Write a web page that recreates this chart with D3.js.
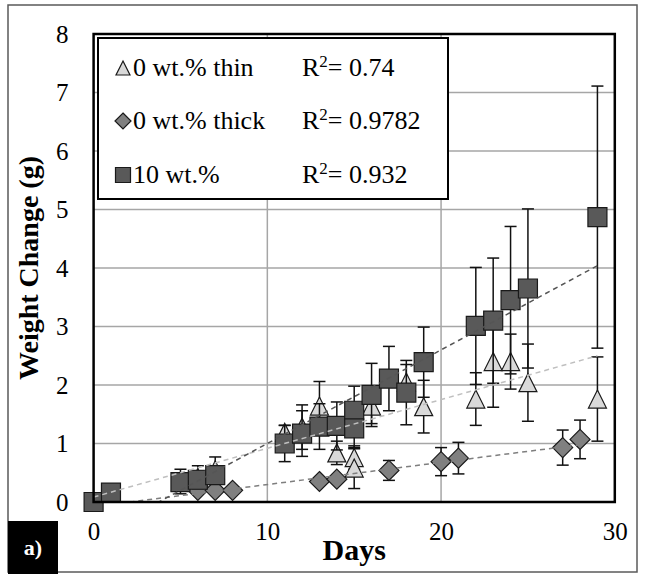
<!DOCTYPE html>
<html>
<head>
<meta charset="utf-8">
<script src="https://cdn.jsdelivr.net/npm/d3@7"></script>
<style>
  html, body { margin: 0; padding: 0; background: #fff; }
  svg { display: block; }
</style>
</head>
<body>
<svg id="chart" width="645" height="574"></svg>
<script>
// ---------------- data ----------------
const xTicks = [0, 10, 20, 30];
const yTicks = [0, 1, 2, 3, 4, 5, 6, 7, 8];

// 0 wt.% thin (triangles)
const thinDays   = [5, 6, 7, 11, 12, 13, 14, 15, 15, 16, 18, 19, 22, 23, 24, 25, 29];
const thinValues = [0.35, 0.42, 0.55, 1.19, 1.28, 1.64, 0.84, 0.76, 0.58, 1.64, 2.05, 1.63, 1.76, 2.40, 2.40, 2.04, 1.76];
const thinErrors = [0.21, 0.20, 0.22, 0.12, 0.38, 0.42, 0.20, 0.20, 0.35, 0.30, 0.30, 0.45, 0.45, 0.78, 0.47, 0.66, 0.72];

// 0 wt.% thick (diamonds)
const thickDays   = [6, 7, 8, 13, 14, 17, 20, 21, 27, 28];
const thickValues = [0.20, 0.20, 0.20, 0.35, 0.39, 0.54, 0.69, 0.75, 0.93, 1.07];
const thickErrors = [0.04, 0.04, 0.04, 0.04, 0.04, 0.17, 0.24, 0.27, 0.30, 0.33];

// 10 wt.% (squares)
const tenDays   = [0, 1, 5, 6, 7, 11, 12, 13, 14, 15, 15, 16, 17, 18, 19, 22, 23, 24, 25, 29];
const tenValues = [0, 0.16, 0.34, 0.38, 0.46, 1.00, 1.17, 1.29, 1.30, 1.56, 1.26, 1.83, 2.11, 1.87, 2.39, 3.01, 3.10, 3.45, 3.65, 4.87];
const tenErrors = [0, 0.05, 0.15, 0.15, 0.15, 0.31, 0.39, 0.39, 0.41, 0.42, 0.35, 0.54, 0.55, 0.55, 0.60, 1.00, 1.07, 1.26, 1.36, 2.24];

// linear trend lines, end points
const thinTrend  = [[0, 0.085], [29, 2.50]];
const thickTrend = [[0, -0.08], [28, 0.98]];
const tenTrend   = [[0, -0.60], [29, 4.04]];

const seriesNames = ["0 wt.% thin", "0 wt.% thick", "10 wt.%"];
const rSquared    = ["0.74", "0.9782", "0.932"];

// ---------------- drawing ----------------
const FONT = "'Liberation Serif', 'Times New Roman', Tinos, 'Nimbus Roman', serif";
const svg = d3.select("#chart");
const x = d3.scaleLinear().domain([0, 30]).range([93.6, 614.8]);
const y = d3.scaleLinear().domain([0, 8]).range([502, 34]);

const fillThin = "#d9d9d9", fillThick = "#808080", fillTen = "#595959";
const markStroke = "#1a1a1a";

// outer border
svg.append("rect").attr("x", 8).attr("y", 5).attr("width", 629).attr("height", 567)
  .attr("fill", "none").attr("stroke", "#5a5a5a").attr("stroke-width", 1.5);

// gridlines
const grid = svg.append("g");
grid.selectAll("line.h").data(yTicks.filter(v => v > 0 && v < 8)).join("line")
  .attr("x1", x(0)).attr("x2", x(30)).attr("y1", d => y(d)).attr("y2", d => y(d))
  .attr("stroke", "#a6a6a6").attr("stroke-width", 1.5);
grid.selectAll("line.v").data(xTicks.filter(v => v > 0 && v < 30)).join("line")
  .attr("y1", y(0)).attr("y2", y(8)).attr("x1", d => x(d)).attr("x2", d => x(d))
  .attr("stroke", "#a6a6a6").attr("stroke-width", 1.5);

// axes (labels only)
const yAxis = svg.append("g").attr("transform", `translate(${x(0)},0)`)
  .call(d3.axisLeft(y).tickValues(yTicks).tickSize(0).tickPadding(25).tickFormat(d3.format("d")));
const xAxis = svg.append("g").attr("transform", `translate(0,${y(0)})`)
  .call(d3.axisBottom(x).tickValues(xTicks).tickSize(0).tickPadding(20).tickFormat(d3.format("d")));
[yAxis, xAxis].forEach(a => {
  a.select(".domain").remove();
  a.attr("font-family", null).attr("font-size", null);
  a.selectAll("text").style("font-family", FONT).style("font-size", "25px").attr("fill", "#000");
});

// marker shapes
function triPath(s) { const h = s, w = s; return `M0,${-h/2}L${w/2},${h/2}L${-w/2},${h/2}Z`; }
function diaPath(s) { const r = s/2; return `M0,${-r}L${r},0L0,${r}L${-r},0Z`; }
function sqPath(s)  { const r = s/2; return `M${-r},${-r}H${r}V${r}H${-r}Z`; }

function drawSeries(days, values, errors, pathFn, size, fill) {
  const data = days.map((d, i) => ({ d, v: values[i], e: errors[i] }));
  const g = svg.append("g");
  const eb = g.append("g").attr("stroke", "#111").attr("stroke-width", 1.5);
  data.filter(p => p.e > 0).forEach(p => {
    const cx = x(p.d), y1 = y(p.v + p.e), y2 = y(p.v - p.e);
    eb.append("line").attr("x1", cx).attr("x2", cx).attr("y1", y1).attr("y2", y2);
    eb.append("line").attr("x1", cx - 6).attr("x2", cx + 6).attr("y1", y1).attr("y2", y1);
    eb.append("line").attr("x1", cx - 6).attr("x2", cx + 6).attr("y1", y2).attr("y2", y2);
  });
  g.append("g").selectAll("path").data(data).join("path")
    .attr("d", pathFn(size))
    .attr("transform", p => `translate(${x(p.d)},${y(p.v)})`)
    .attr("fill", fill).attr("stroke", markStroke).attr("stroke-width", 1.2);
}

drawSeries(thinDays, thinValues, thinErrors, triPath, 18, fillThin);
drawSeries(thickDays, thickValues, thickErrors, diaPath, 20, fillThick);
drawSeries(tenDays, tenValues, tenErrors, sqPath, 19, fillTen);

// trend lines (clipped to plot area)
svg.append("clipPath").attr("id", "plotclip").append("rect")
  .attr("x", x(0)).attr("y", y(8)).attr("width", x(30) - x(0)).attr("height", y(0) - y(8));
const line = d3.line().x(p => x(p[0])).y(p => y(p[1]));
const tg = svg.append("g").attr("clip-path", "url(#plotclip)").attr("fill", "none")
  .attr("stroke-width", 1.5).attr("stroke-dasharray", "5,4");
tg.append("path").attr("d", line(thinTrend)).attr("stroke", "#bfbfbf");
tg.append("path").attr("d", line(thickTrend)).attr("stroke", "#7f7f7f");
tg.append("path").attr("d", line(tenTrend)).attr("stroke", "#555");

// plot frame
svg.append("rect").attr("x", x(0)).attr("y", y(8)).attr("width", x(30) - x(0)).attr("height", y(0) - y(8))
  .attr("fill", "none").attr("stroke", "#000").attr("stroke-width", 2.5);

// legend
const lg = svg.append("g");
lg.append("rect").attr("x", 98).attr("y", 38).attr("width", 350).attr("height", 161)
  .attr("fill", "#fff").attr("stroke", "#000").attr("stroke-width", 2);
const rowY = [68, 121, 175];
const legendShapes = [[triPath, 14, fillThin], [diaPath, 16, fillThick], [sqPath, 15, fillTen]];
seriesNames.forEach((name, i) => {
  const [fn, s, f] = legendShapes[i];
  lg.append("path").attr("d", fn(s)).attr("transform", `translate(123,${rowY[i]})`)
    .attr("fill", f).attr("stroke", markStroke).attr("stroke-width", 1.2);
  lg.append("text").attr("x", 133).attr("y", rowY[i] + 8)
    .style("font-family", FONT).style("font-size", "26px").text(name);
  const t = lg.append("text").attr("x", 302).attr("y", rowY[i] + 8)
    .style("font-family", FONT).style("font-size", "26px");
  t.append("tspan").text("R");
  t.append("tspan").style("font-size", "17px").attr("dy", -9).text("2");
  t.append("tspan").attr("dy", 9).text("= " + rSquared[i]);
});

// axis titles
svg.append("text").attr("transform", "translate(38,268) rotate(-90)")
  .attr("text-anchor", "middle").style("font-family", FONT).style("font-weight", "bold").style("font-size", "28px")
  .text("Weight Change (g)");
svg.append("text").attr("x", (x(0) + x(30)) / 2).attr("y", 560)
  .attr("text-anchor", "middle").style("font-family", FONT).style("font-weight", "bold").style("font-size", "30px")
  .text("Days");

// panel tag
svg.append("rect").attr("x", 8).attr("y", 521).attr("width", 50).attr("height", 53).attr("fill", "#000");
svg.append("text").attr("x", 33).attr("y", 555).attr("text-anchor", "middle")
  .style("font-family", FONT).style("font-weight", "bold").style("font-size", "22px").attr("fill", "#fff").text("a)");
</script>
</body>
</html>
